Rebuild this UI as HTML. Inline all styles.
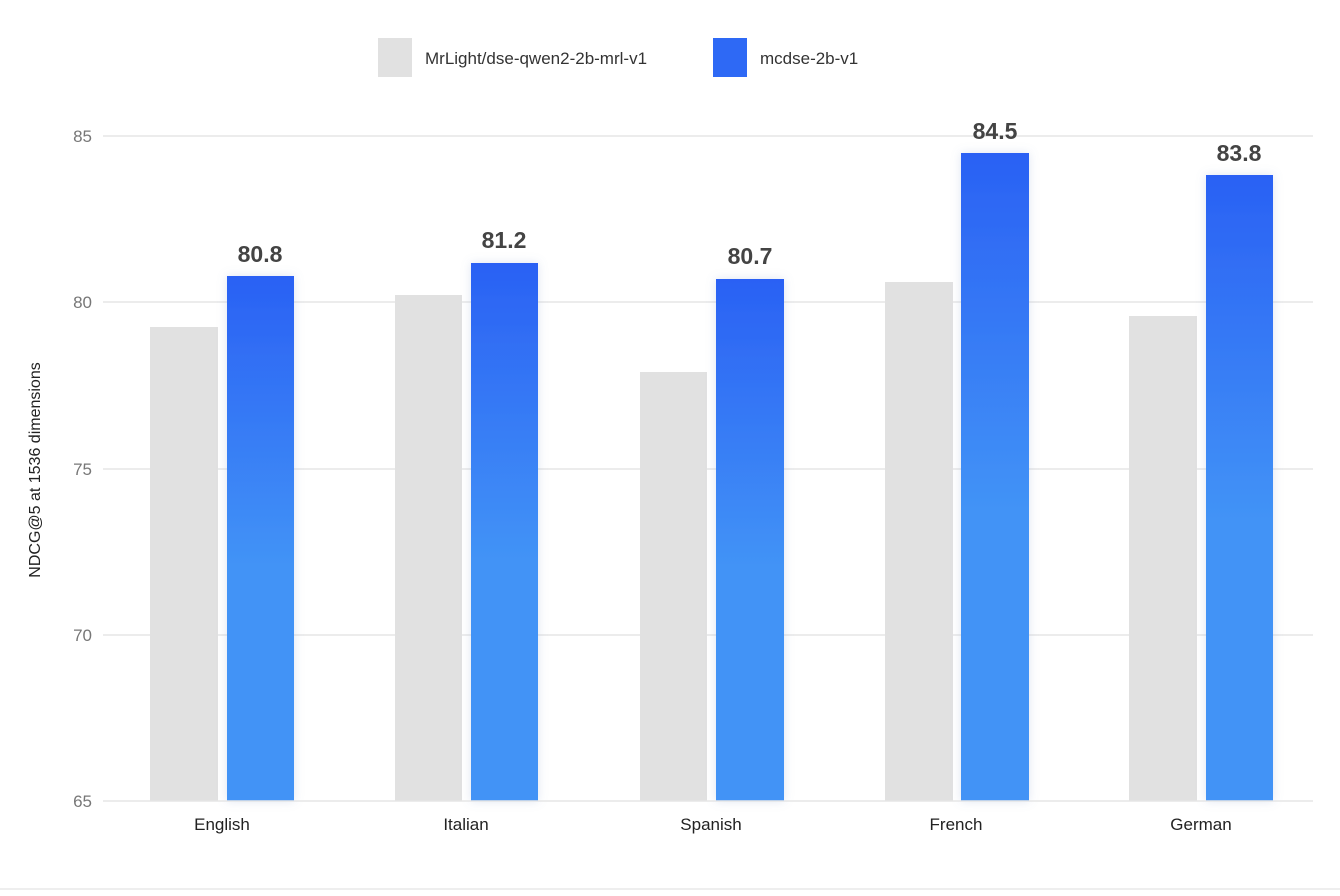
<!DOCTYPE html>
<html><head><meta charset="utf-8"><style>
html,body{margin:0;padding:0;background:#fff;}
svg{display:block;font-family:"Liberation Sans",Arial,sans-serif;}
</style></head><body>
<svg width="1340" height="896" viewBox="0 0 1340 896">
<defs>
<linearGradient id="g" x1="0" y1="0" x2="0" y2="1">
<stop offset="0" stop-color="#2a61f4"/>
<stop offset="0.55" stop-color="#4293f6"/>
<stop offset="1" stop-color="#4293f6"/>
</linearGradient>
<filter id="sh" x="-30%" y="-10%" width="160%" height="120%">
<feGaussianBlur in="SourceAlpha" stdDeviation="5"/>
<feColorMatrix values="0 0 0 0 0.2 0 0 0 0 0.3 0 0 0 0 0.6 0 0 0 0.25 0"/>
<feMerge><feMergeNode/><feMergeNode in="SourceGraphic"/></feMerge>
</filter>
</defs>
<rect x="378" y="38" width="34" height="39" fill="#e1e1e1"/>
<text x="425" y="64" font-size="17" fill="#333">MrLight/dse-qwen2-2b-mrl-v1</text>
<rect x="713" y="38" width="34" height="39" fill="#2e69f5"/>
<text x="760" y="64" font-size="17" fill="#333">mcdse-2b-v1</text>
<g stroke="#e6e6e6" stroke-width="1.5">
<line x1="103" x2="1313" y1="136" y2="136"/>
<line x1="103" x2="1313" y1="302" y2="302"/>
<line x1="103" x2="1313" y1="469" y2="469"/>
<line x1="103" x2="1313" y1="635" y2="635"/>
</g>
<g font-size="17" fill="#777" text-anchor="end">
<text x="92" y="142">85</text><text x="92" y="308">80</text><text x="92" y="475">75</text><text x="92" y="641">70</text><text x="92" y="807">65</text>
</g>
<text transform="translate(40,470) rotate(-90)" font-size="16" fill="#222" text-anchor="middle">NDCG@5 at 1536 dimensions</text>
<g fill="#e1e1e1">
<rect x="150" y="327" width="68" height="474"/>
<rect x="395" y="295" width="67" height="506"/>
<rect x="640" y="372" width="67" height="429"/>
<rect x="885" y="282" width="68" height="519"/>
<rect x="1129" y="316" width="68" height="485"/>
</g>
<g fill="url(#g)" filter="url(#sh)">
<rect x="227" y="276" width="67" height="525"/>
<rect x="471" y="263" width="67" height="538"/>
<rect x="716" y="279" width="68" height="522"/>
<rect x="961" y="153" width="68" height="648"/>
<rect x="1206" y="175" width="67" height="626"/>
</g>
<line x1="103" x2="1313" y1="801" y2="801" stroke="#e6e6e6" stroke-width="1.5"/>
<g font-size="23" font-weight="bold" fill="#444" text-anchor="middle">
<text x="260" y="262">80.8</text><text x="504" y="248">81.2</text><text x="750" y="264">80.7</text><text x="995" y="139">84.5</text><text x="1239" y="161">83.8</text>
</g>
<g font-size="17" fill="#222" text-anchor="middle">
<text x="222" y="830">English</text><text x="466" y="830">Italian</text><text x="711" y="830">Spanish</text><text x="956" y="830">French</text><text x="1201" y="830">German</text>
</g>
<line x1="0" x2="1340" y1="889" y2="889" stroke="#e8e8e8" stroke-width="1.5"/>
</svg>
</body></html>
